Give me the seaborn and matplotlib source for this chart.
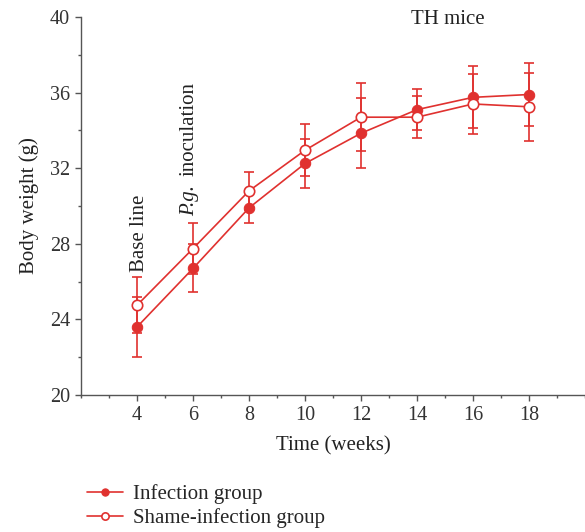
import pandas as pd
import matplotlib
matplotlib.use("Agg")
import matplotlib.pyplot as plt
import seaborn as sns
from matplotlib.ticker import MultipleLocator

weeks = [4, 6, 8, 10, 12, 14, 16, 18]
infection_mean = [23.6, 26.7, 29.9, 32.25, 33.85, 35.1, 35.75, 35.9]
infection_sd = [1.58, 1.27, 0.8, 1.32, 1.85, 1.1, 1.64, 1.65]
shame_mean = [24.75, 27.75, 30.8, 32.95, 34.7, 34.7, 35.4, 35.25]
shame_sd = [1.48, 1.37, 1.0, 1.37, 1.8, 1.1, 1.58, 1.8]

red = '#e0312f'
txt = '#222222'
fs = 15
sns.set_style('ticks')
plt.rcParams['font.family'] = ['Liberation Serif', 'DejaVu Serif']

df = pd.DataFrame({'week': weeks * 2,
                   'weight': infection_mean + shame_mean,
                   'sd': infection_sd + shame_sd,
                   'group': ['Infection group'] * 8 + ['Shame-infection group'] * 8})

fig = plt.figure(figsize=(5.85, 5.32), dpi=100)
ax = fig.add_axes([0.1385, 0.2575, 0.8615, 0.7105])

inf = df[df.group == 'Infection group']
sha = df[df.group == 'Shame-infection group']
ax.errorbar(inf.week, inf.weight, yerr=inf.sd, fmt='none', ecolor=red, elinewidth=1.2,
            capsize=3.6, capthick=1.2, zorder=2)
ax.errorbar(sha.week, sha.weight, yerr=sha.sd, fmt='none', ecolor=red, elinewidth=1.2,
            capsize=3.6, capthick=1.2, zorder=2)
sns.lineplot(data=inf, x='week', y='weight', color=red, marker='o', markersize=7.5,
             markeredgecolor=red, linewidth=1.2, label='Infection group', ax=ax, zorder=3)
sns.lineplot(data=sha, x='week', y='weight', color=red, marker='o', markersize=7.5,
             markerfacecolor='white', markeredgecolor=red, markeredgewidth=1.2,
             linewidth=1.2, label='Shame-infection group', ax=ax, zorder=3)

ax.set_xlim(2, 20)
ax.set_ylim(20, 40)
ax.set_xticks(weeks)
ax.set_yticks([20, 24, 28, 32, 36, 40])
ax.xaxis.set_minor_locator(MultipleLocator(1))
ax.yaxis.set_minor_locator(MultipleLocator(2))
ax.tick_params(which='major', length=4.5, width=1, color='#555555', labelsize=14.5,
               labelcolor='#333333')
ax.tick_params(which='minor', length=2.5, width=1, color='#555555')
for s in ['left', 'bottom']:
    ax.spines[s].set_color('#555555')
    ax.spines[s].set_linewidth(1)
sns.despine(ax=ax)
ax.set_xlabel('Time (weeks)', fontsize=fs, color=txt, labelpad=8)
ax.set_ylabel('Body weight (g)', fontsize=fs, color=txt, labelpad=8)

ax.text(15.1, 39.85, 'TH mice', fontsize=fs, ha='center', va='center', color=txt)
ax.text(4.1, 26.5, 'Base line', fontsize=fs, rotation=90, ha='center', va='bottom', color=txt)

# "P.g." in italics, "inoculation" placed right after it along the rotated baseline
pg = ax.text(5.87, 29.45, 'P.g.', fontsize=fs, fontstyle='italic', rotation=90,
             ha='center', va='bottom', color=txt)
fig.canvas.draw()
bb = pg.get_window_extent()
top = ax.transData.inverted().transform((bb.x0, bb.y1))[1]
ax.text(5.87, top + 0.5, 'inoculation', fontsize=fs, rotation=90, ha='center',
        va='bottom', color=txt)

ax.legend(loc='upper left', bbox_to_anchor=(0.135, 0.105), bbox_transform=fig.transFigure,
          frameon=False, fontsize=fs, handlelength=1.7, handletextpad=0.5,
          labelspacing=0.2, borderaxespad=0, markerscale=0.7)

fig.savefig('out.png', dpi=100)
